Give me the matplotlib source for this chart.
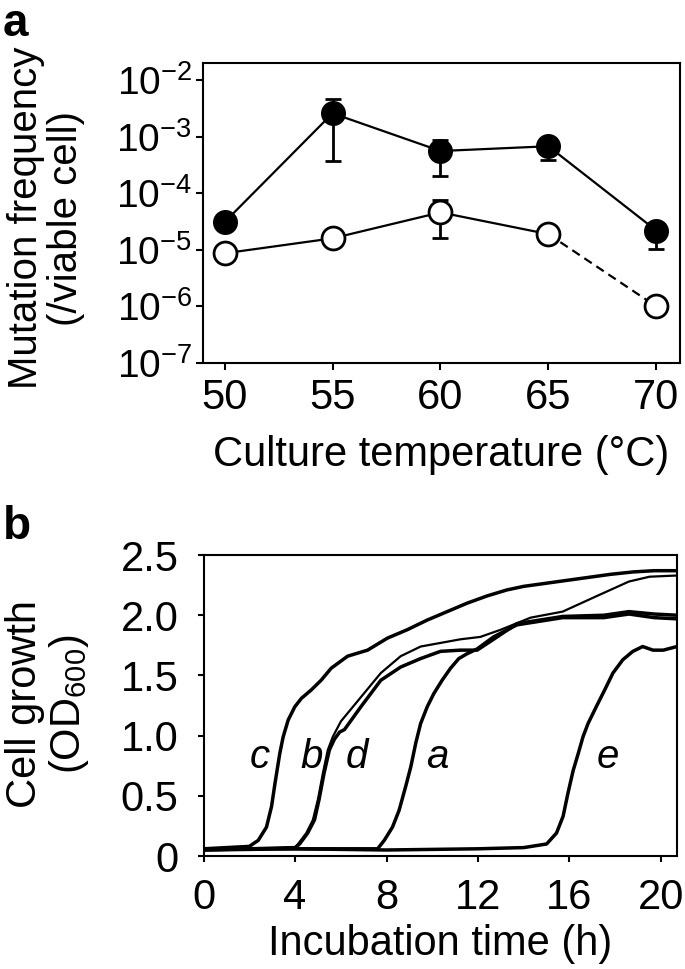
import matplotlib
matplotlib.use('Agg')
from matplotlib import pyplot as plt
import numpy as np

plt.rcParams['font.family'] = ['Liberation Sans', 'DejaVu Sans']
plt.rcParams['mathtext.fontset'] = 'custom'
plt.rcParams['mathtext.rm'] = 'Liberation Sans'
plt.rcParams['mathtext.it'] = 'Liberation Sans:italic'
plt.rcParams['mathtext.bf'] = 'Liberation Sans:bold'

# ---- panel a: mutation frequency vs culture temperature ----
temp = [50, 55, 60, 65, 70]
freq_filled = [3.1e-5, 2.6e-3, 5.6e-4, 6.8e-4, 2.2e-5]
filled_lo = [3.1e-5, 3.8e-4, 2.05e-4, 3.9e-4, 1.05e-5]
filled_hi = [3.1e-5, 4.6e-3, 8.9e-4, 6.8e-4, 2.2e-5]
freq_open = [8.7e-6, 1.6e-5, 4.6e-5, 1.9e-5, 1.0e-6]
open_lo = [8.7e-6, 1.6e-5, 1.6e-5, 1.9e-5, 1.0e-6]
open_hi = [8.7e-6, 1.6e-5, 7.6e-5, 1.9e-5, 1.0e-6]
ytick_vals = [1e-7, 1e-6, 1e-5, 1e-4, 1e-3, 1e-2]
ytick_labels = [r'$10^{-7}$', r'$10^{-6}$', r'$10^{-5}$', r'$10^{-4}$', r'$10^{-3}$', r'$10^{-2}$']

# ---- panel b: growth curves (OD600 vs time) ----
t_c = [0, 1, 2, 2.39, 2.75, 2.97, 3.12, 3.33, 3.48, 3.70, 3.99, 4.28, 4.71, 5.14, 5.58, 6.30, 7.17,
       8.04, 8.91, 9.78, 10.65, 11.52, 12.39, 13.26, 14.0, 15.9, 17.8, 18.8, 19.7, 20.7]
od_c = [0.06, 0.07, 0.08, 0.13, 0.24, 0.41, 0.60, 0.85, 0.99, 1.13, 1.24, 1.31, 1.38, 1.46, 1.56, 1.66, 1.71,
        1.81, 1.88, 1.96, 2.03, 2.10, 2.16, 2.21, 2.24, 2.29, 2.34, 2.36, 2.37, 2.37]
t_b = [0, 2, 4.0, 4.13, 4.49, 4.78, 5.0, 5.22, 5.43, 5.65, 5.87, 6.01, 6.88, 7.75, 8.62, 9.49, 10.36,
       11.23, 12.1, 13.0, 14.3, 15.7, 17.2, 18.6, 19.5, 20.7]
od_b = [0.06, 0.06, 0.07, 0.10, 0.19, 0.30, 0.47, 0.69, 0.88, 0.99, 1.07, 1.12, 1.32, 1.52, 1.66, 1.74, 1.77,
        1.80, 1.82, 1.88, 1.98, 2.03, 2.16, 2.28, 2.32, 2.33]
t_d = [0, 2, 4.0, 4.2, 4.55, 4.85, 5.05, 5.27, 5.5, 5.72, 5.95, 6.16, 6.88, 7.75, 8.62, 9.49, 10.36,
       11.23, 11.96, 12.68, 13.7, 15.7, 17.5, 18.6, 19.7, 20.7]
od_d = [0.06, 0.06, 0.07, 0.10, 0.19, 0.30, 0.47, 0.69, 0.88, 0.97, 1.03, 1.05, 1.24, 1.46, 1.57, 1.64, 1.70,
        1.71, 1.71, 1.80, 1.93, 1.99, 2.00, 2.03, 2.01, 2.00]
t_a = [0, 2, 4, 6, 7.61, 7.9, 8.26, 8.55, 8.84, 9.06, 9.28, 9.49, 9.78, 10.07, 10.43, 10.80, 11.16,
       11.52, 11.96, 12.68, 13.7, 15.7, 17.5, 18.6, 19.7, 20.7]
od_a = [0.05, 0.06, 0.06, 0.06, 0.06, 0.13, 0.24, 0.38, 0.58, 0.74, 0.94, 1.10, 1.24, 1.35, 1.46, 1.56, 1.64,
        1.68, 1.72, 1.82, 1.92, 1.98, 1.98, 2.01, 1.98, 1.97]
t_e = [0, 4, 8, 12, 14, 15.0, 15.43, 15.72, 15.93, 16.16, 16.38, 16.59, 16.81, 17.17, 17.54, 17.9,
       18.33, 18.77, 19.2, 19.65, 20.1, 20.7]
od_e = [0.05, 0.06, 0.05, 0.06, 0.07, 0.10, 0.19, 0.33, 0.52, 0.71, 0.85, 0.99, 1.10, 1.24, 1.38, 1.52,
        1.63, 1.70, 1.74, 1.71, 1.71, 1.74]
curve_names = ['c', 'b', 'd', 'a', 'e']
name_x = [2.46, 4.73, 6.7, 10.24, 17.66]
name_y = 0.82

fig = plt.figure(figsize=(6.85, 9.69), dpi=100)

# panel a
ax1 = fig.add_axes([0.2964, 0.6254, 0.6963, 0.3099])
lo_f = np.array(freq_filled) - np.array(filled_lo)
hi_f = np.array(filled_hi) - np.array(freq_filled)
ax1.errorbar(temp, freq_filled, yerr=[lo_f, hi_f], fmt='none', ecolor='black',
             elinewidth=2, capsize=5.5, capthick=2, zorder=1)
lo_o = np.array(freq_open) - np.array(open_lo)
hi_o = np.array(open_hi) - np.array(freq_open)
ax1.errorbar(temp, freq_open, yerr=[lo_o, hi_o], fmt='none', ecolor='black',
             elinewidth=2, capsize=5.5, capthick=2, zorder=1)
ax1.plot(temp, freq_filled, '-', color='black', lw=1.6, zorder=2)
ax1.plot(temp[:4], freq_open[:4], '-', color='black', lw=1.6, zorder=2)
ax1.plot(temp[3:], freq_open[3:], color='black', lw=1.6, ls=(0, (4, 2.5)), zorder=2)
ax1.plot(temp, freq_filled, 'o', ms=16.5, mfc='black', mec='black', mew=1.5, zorder=3)
ax1.plot(temp, freq_open, 'o', ms=16.5, mfc='white', mec='black', mew=2, zorder=3)
ax1.set_yscale('log')
ax1.set_xlim(49.0, 71.1)
ax1.set_ylim(1e-7, 10 ** -1.69)
ax1.set_xticks(temp)
ax1.set_yticks(ytick_vals)
ax1.set_yticklabels(ytick_labels)
ax1.minorticks_off()
ax1.tick_params(axis='x', labelsize=30, length=5, width=1.5, pad=6)
ax1.tick_params(axis='y', labelsize=28, length=5, width=1.5, pad=3)
ax1.set_xlabel('Culture temperature (°C)', fontsize=30, labelpad=12)
for s in ax1.spines.values():
    s.set_linewidth(1.5)
fig.text(46 / 685, 1 - 218 / 969, 'Mutation frequency\n(/viable cell)', rotation=90,
         ha='center', va='center', multialignment='center', fontsize=29, linespacing=1.05)
fig.text(0.004, 0.998, 'a', fontsize=33, fontweight='bold', ha='left', va='top')

# panel b
ax2 = fig.add_axes([0.2972, 0.1166, 0.6911, 0.3106])
for t, od, w in [(t_c, od_c, 2.5), (t_b, od_b, 1.6), (t_d, od_d, 2.5), (t_a, od_a, 2.5), (t_e, od_e, 2.5)]:
    ax2.plot(t, od, color='black', lw=w)
for nm, x in zip(curve_names, name_x):
    ax2.text(x, name_y, nm, fontsize=29, style='italic', ha='center', va='center')
ax2.set_xlim(0, 20.7)
ax2.set_ylim(0, 2.5)
ax2.set_xticks([0, 4, 8, 12, 16, 20])
ax2.set_yticks([0, 0.5, 1.0, 1.5, 2.0, 2.5])
ax2.set_yticklabels(['0', '0.5', '1.0', '1.5', '2.0', '2.5'])
ax2.tick_params(axis='x', labelsize=30, length=4, width=1.5, pad=12)
ax2.tick_params(axis='y', labelsize=30, length=4, width=1.5, pad=14)
ax2.set_xlabel('Incubation time (h)', fontsize=30, labelpad=4)
for s in ax2.spines.values():
    s.set_linewidth(1.5)
fig.text(48 / 685, 1 - 704 / 969, 'Cell growth\n(OD$_{600}$)', rotation=90,
         ha='center', va='center', multialignment='center', fontsize=30, linespacing=1.05)
fig.text(0.004, 1 - 505 / 969, 'b', fontsize=33, fontweight='bold', ha='left', va='top')

fig.savefig('out.png', dpi=100)
